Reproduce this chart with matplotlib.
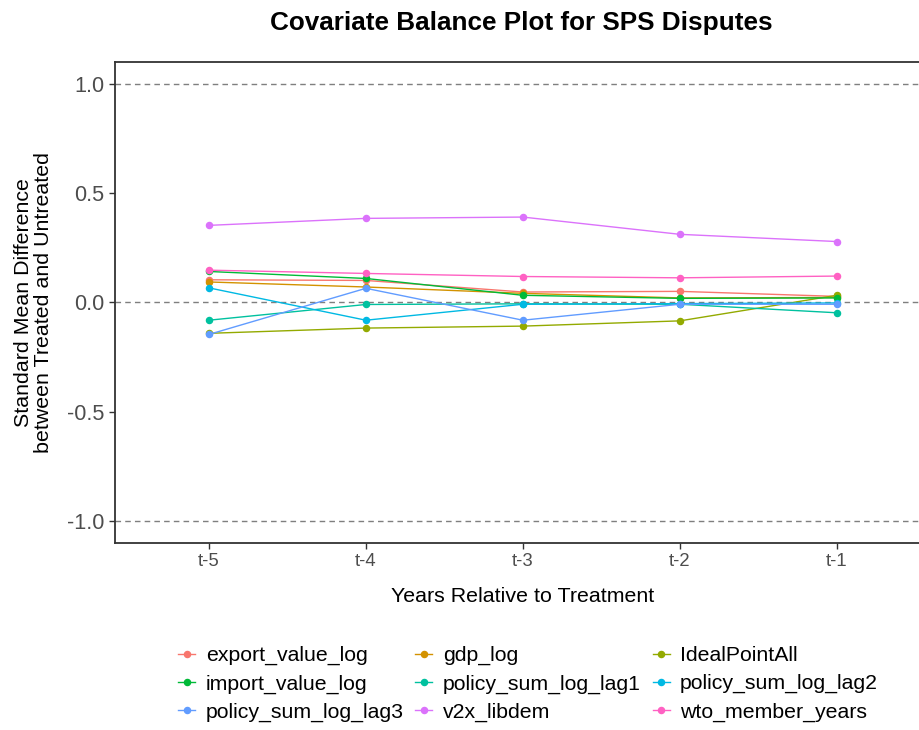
import matplotlib
matplotlib.use("Agg")
import matplotlib.pyplot as plt
from matplotlib.lines import Line2D

plt.rcParams["font.family"] = ["Liberation Sans", "DejaVu Sans"]

# years before treatment
periods = ["t-5", "t-4", "t-3", "t-2", "t-1"]

# standardized mean differences per covariate
export_value_log = [0.103, 0.100, 0.047, 0.050, 0.027]
gdp_log = [0.093, 0.070, 0.041, 0.020, 0.022]
IdealPointAll = [-0.142, -0.118, -0.109, -0.085, 0.032]
import_value_log = [0.141, 0.109, 0.032, 0.018, 0.020]
policy_sum_log_lag1 = [-0.082, -0.010, -0.007, -0.009, -0.048]
policy_sum_log_lag2 = [0.066, -0.082, -0.009, -0.006, -0.003]
policy_sum_log_lag3 = [-0.147, 0.064, -0.082, -0.009, -0.009]
v2x_libdem = [0.352, 0.384, 0.390, 0.311, 0.278]
wto_member_years = [0.147, 0.132, 0.118, 0.112, 0.120]

names = ["export_value_log", "gdp_log", "IdealPointAll", "import_value_log",
         "policy_sum_log_lag1", "policy_sum_log_lag2", "policy_sum_log_lag3",
         "v2x_libdem", "wto_member_years"]
series = [export_value_log, gdp_log, IdealPointAll, import_value_log,
          policy_sum_log_lag1, policy_sum_log_lag2, policy_sum_log_lag3,
          v2x_libdem, wto_member_years]
colors = ["#F8766D", "#D39200", "#93AA00", "#00BA38", "#00C19F",
          "#00B9E3", "#619CFF", "#DB72FB", "#FF61C3"]

fig = plt.figure(figsize=(9.2, 7.3), dpi=100)
ax = fig.add_axes([0.1247, 0.2566, 0.8873, 0.6586])

x = list(range(len(periods)))
for ref in (-1, 0, 1):
    ax.axhline(ref, color="#7f7f7f", linestyle=(0, (4, 3)), linewidth=1.0, zorder=1)

handles = []
for name, vals, c in zip(names, series, colors):
    ax.plot(x, vals, color=c, linewidth=1.0, marker="o", markersize=4.4,
            zorder=3)
    handles.append(Line2D([0], [0], color=c, linewidth=1.0, marker="o",
                          markersize=4.4, label=name))

ax.set_xlim(-0.6, 4.6)
ax.set_ylim(-1.1, 1.1)
ax.set_xticks(x)
ax.set_xticklabels(periods)
ax.set_yticks([-1.0, -0.5, 0.0, 0.5, 1.0])
ax.set_yticklabels(["-1.0", "-0.5", "0.0", "0.5", "1.0"])
ax.tick_params(axis="both", colors="#333333", length=4, width=1.0)
ax.tick_params(axis="y", labelsize=15.6, labelcolor="#4d4d4d")
ax.tick_params(axis="x", labelsize=13.3, labelcolor="#4d4d4d")
for side in ax.spines.values():
    side.set_color("#333333")
    side.set_linewidth(1.3)

ax.set_xlabel("Years Relative to Treatment", fontsize=15.4, labelpad=12)
ax.set_ylabel("Standard Mean Difference\nbetween Treated and Untreated",
              fontsize=15.4, labelpad=10, linespacing=1.05)
fig.text(0.567, 0.969, "Covariate Balance Plot for SPS Disputes",
         ha="center", va="center", fontsize=18.8, fontweight="bold")

# legend filled row by row
order = [0, 3, 6, 1, 4, 7, 2, 5, 8]
fig.legend([handles[i] for i in order], [names[i] for i in order],
           loc="center", bbox_to_anchor=(0.574, 0.063), ncol=3,
           frameon=False, fontsize=15.3, handlelength=0.8, handletextpad=0.5,
           columnspacing=0.55, labelspacing=0.42)

fig.savefig("out.png", dpi=100)
